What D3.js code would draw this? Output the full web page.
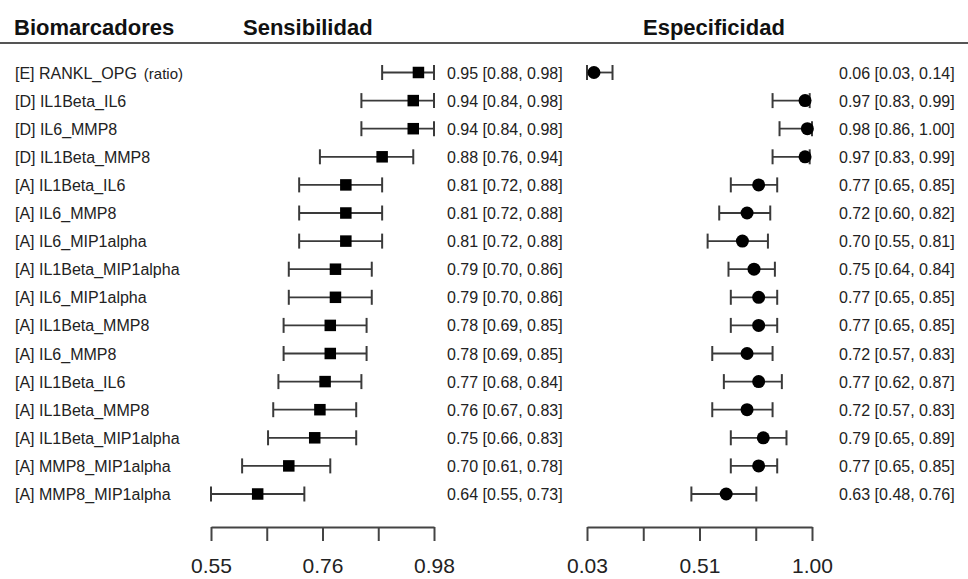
<!DOCTYPE html>
<html>
<head>
<meta charset="utf-8">
<script src="https://cdn.jsdelivr.net/npm/d3@7"></script>
<style>
  html, body { margin: 0; padding: 0; background: #fff; }
  svg { display: block; font-family: "Liberation Sans", Arial, Helvetica, sans-serif; }
</style>
</head>
<body>
<svg id="chart" width="968" height="579"></svg>
<script>
// ---- data ----
const labels = [
  "[E] RANKL_OPG", "[D] IL1Beta_IL6", "[D] IL6_MMP8", "[D] IL1Beta_MMP8",
  "[A] IL1Beta_IL6", "[A] IL6_MMP8", "[A] IL6_MIP1alpha", "[A] IL1Beta_MIP1alpha",
  "[A] IL6_MIP1alpha", "[A] IL1Beta_MMP8", "[A] IL6_MMP8", "[A] IL1Beta_IL6",
  "[A] IL1Beta_MMP8", "[A] IL1Beta_MIP1alpha", "[A] MMP8_MIP1alpha", "[A] MMP8_MIP1alpha"
];
const labelNotes = ["(ratio)", "", "", "", "", "", "", "", "", "", "", "", "", "", "", ""];
const sens   = [0.95, 0.94, 0.94, 0.88, 0.81, 0.81, 0.81, 0.79, 0.79, 0.78, 0.78, 0.77, 0.76, 0.75, 0.70, 0.64];
const sensLo = [0.88, 0.84, 0.84, 0.76, 0.72, 0.72, 0.72, 0.70, 0.70, 0.69, 0.69, 0.68, 0.67, 0.66, 0.61, 0.55];
const sensHi = [0.98, 0.98, 0.98, 0.94, 0.88, 0.88, 0.88, 0.86, 0.86, 0.85, 0.85, 0.84, 0.83, 0.83, 0.78, 0.73];
const spec   = [0.06, 0.97, 0.98, 0.97, 0.77, 0.72, 0.70, 0.75, 0.77, 0.77, 0.72, 0.77, 0.72, 0.79, 0.77, 0.63];
const specLo = [0.03, 0.83, 0.86, 0.83, 0.65, 0.60, 0.55, 0.64, 0.65, 0.65, 0.57, 0.62, 0.57, 0.65, 0.65, 0.48];
const specHi = [0.14, 0.99, 1.00, 0.99, 0.85, 0.82, 0.81, 0.84, 0.85, 0.85, 0.83, 0.87, 0.83, 0.89, 0.85, 0.76];
const sensTicks = [0.55, 0.6575, 0.765, 0.8725, 0.98];
const sensTickLabels = ["0.55", "", "0.76", "", "0.98"];
const specTicks = [0.03, 0.2725, 0.515, 0.7575, 1.00];
const specTickLabels = ["0.03", "", "0.51", "", "1.00"];
const headers = ["Biomarcadores", "Sensibilidad", "Especificidad"];

// ---- layout ----
const W = 968, H = 579;
const svg = d3.select("#chart");
const rows = d3.range(labels.length);
const y = d3.scalePoint().domain(rows).range([72.5, 494]);
const xSens = d3.scaleLinear().domain([0.55, 0.98]).range([211, 434]);
const xSpec = d3.scaleLinear().domain([0.03, 1.00]).range([587, 812]);
const fmt = d3.format(".2f");
const lineCol = "#3a3a3a";

// header
const hdr = svg.append("g").attr("font-weight", "bold").attr("font-size", 22).attr("fill", "#111");
hdr.append("text").attr("x", 14).attr("y", 35).text(headers[0]);
hdr.append("text").attr("x", 243).attr("y", 35).text(headers[1]);
hdr.append("text").attr("x", 643).attr("y", 35).text(headers[2]);
svg.append("line").attr("x1", 0).attr("x2", W).attr("y1", 43).attr("y2", 43)
  .attr("stroke", "#555").attr("stroke-width", 2);

// row labels
const lab = svg.append("g").attr("font-size", 16).attr("fill", "#222");
rows.forEach(i => {
  const t = lab.append("text").attr("x", 15).attr("y", y(i) + 6);
  t.append("tspan").text(labels[i]);
  if (labelNotes[i]) t.append("tspan").attr("font-size", 15).attr("dx", 7).text(labelNotes[i]);
});

// value text
const txt = svg.append("g").attr("font-size", 16).attr("fill", "#222");
rows.forEach(i => {
  txt.append("text").attr("x", 447).attr("y", y(i) + 6)
    .text(`${fmt(sens[i])} [${fmt(sensLo[i])}, ${fmt(sensHi[i])}]`);
  txt.append("text").attr("x", 839).attr("y", y(i) + 6)
    .text(`${fmt(spec[i])} [${fmt(specLo[i])}, ${fmt(specHi[i])}]`);
});

// error bars
function drawCI(g, x, est, lo, hi, shape) {
  const cap = 7.5;
  rows.forEach(i => {
    const yy = y(i);
    g.append("line").attr("x1", x(lo[i])).attr("x2", x(hi[i])).attr("y1", yy).attr("y2", yy)
      .attr("stroke", lineCol).attr("stroke-width", 1.8);
    [lo[i], hi[i]].forEach(v => {
      g.append("line").attr("x1", x(v)).attr("x2", x(v)).attr("y1", yy - cap).attr("y2", yy + cap)
        .attr("stroke", lineCol).attr("stroke-width", 2);
    });
    if (shape === "square") {
      g.append("rect").attr("x", x(est[i]) - 5.75).attr("y", yy - 5.75)
        .attr("width", 11.5).attr("height", 11.5).attr("fill", "#000");
    } else {
      g.append("circle").attr("cx", x(est[i])).attr("cy", yy).attr("r", 6.5).attr("fill", "#000");
    }
  });
}
drawCI(svg.append("g"), xSens, sens, sensLo, sensHi, "square");
drawCI(svg.append("g"), xSpec, spec, specLo, specHi, "circle");

// axes
function drawAxis(x, ticks, tlabels) {
  const ax = d3.axisBottom(x).tickValues(ticks)
    .tickFormat((d, i) => tlabels[i]).tickSize(14).tickSizeOuter(0).tickPadding(17);
  const g = svg.append("g").attr("transform", "translate(0,527)").call(ax);
  g.select(".domain").attr("stroke", "#444").attr("stroke-width", 2);
  g.selectAll(".tick line").attr("stroke", "#444").attr("stroke-width", 2);
  g.selectAll(".tick text").attr("font-size", 21).attr("fill", "#222")
    .attr("font-family", "'Liberation Sans', Arial, Helvetica, sans-serif");
}
drawAxis(xSens, sensTicks, sensTickLabels);
drawAxis(xSpec, specTicks, specTickLabels);
</script>
</body>
</html>
